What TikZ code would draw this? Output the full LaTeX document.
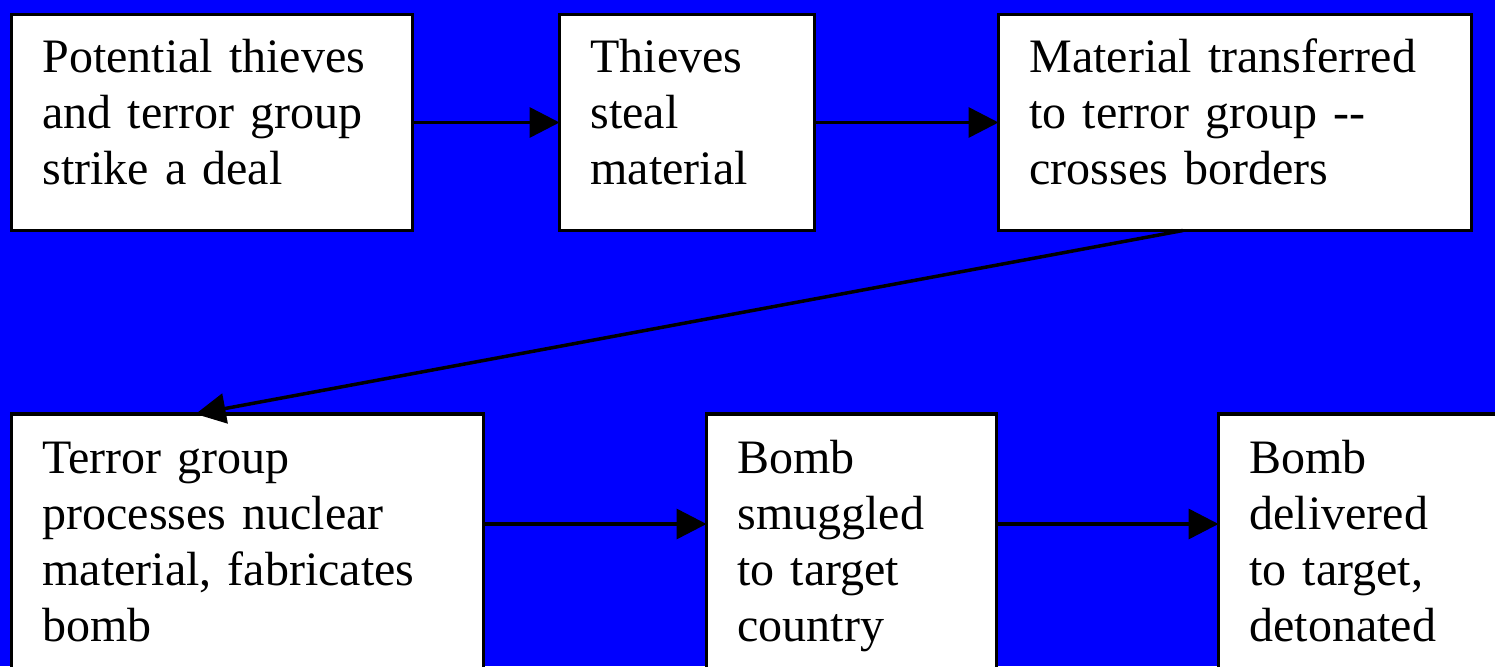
\documentclass[tikz,border=0pt]{standalone}
\usepackage{fontspec}
\setmainfont{Liberation Serif}
\usetikzlibrary{arrows.meta,calc,positioning}
\definecolor{slideblue}{RGB}{0,0,255}

\begin{document}
\begin{tikzpicture}[x=1pt,y=-1pt,
  stagebox/.style={draw=black,fill=white,line width=3.5pt,anchor=north west,
    inner xsep=31pt,inner ysep=0pt,outer sep=0pt,align=left,
    font=\fontsize{48}{56}\selectfont},
  toprow/.style={text height=58pt,text depth=158pt},
  lowrow/.style={text height=59pt,text depth=221pt},
  flow/.style={-{Triangle[length=30pt,width=30pt]},line width=3.5pt}]
\useasboundingbox (0,0) rectangle (1495,666);
\fill[slideblue] (0,0) rectangle (1495,666);
\clip (0,0) rectangle (1495,666);

% top row
\node[stagebox,toprow,text width=339pt] (deal) at (11.5,14.5)
  {Potential thieves\\and terror group\\strike a deal};
\node[stagebox,toprow,text width=193pt] (steal) at (559.5,14.5)
  {Thieves\\steal\\material};
\node[stagebox,toprow,text width=411pt] (transfer) at (998.5,14.5)
  {Material transferred\\to terror group -{}-\\crosses borders};

% bottom row
\node[stagebox,lowrow,text width=410pt] (fabricate) at (11.5,414)
  {Terror group\\processes nuclear\\material, fabricates\\bomb};
\node[stagebox,lowrow,text width=228pt] (smuggle) at (706.5,414)
  {Bomb\\smuggled\\to target\\country};
\node[stagebox,lowrow,text width=240pt] (detonate) at (1218.5,414)
  {Bomb\\delivered\\to target,\\detonated};

\coordinate (lowline) at (0,524);

\draw[flow] (deal) -- (steal);
\draw[flow] (steal) -- (transfer);
\draw[flow] ($(transfer.south west)!0.39!(transfer.south east)$)
  -- ($(fabricate.north west)!0.39!(fabricate.north east)$);
\draw[flow] (fabricate.east |- lowline) -- (smuggle.west |- lowline);
\draw[flow] (smuggle.east |- lowline) -- (detonate.west |- lowline);
\end{tikzpicture}
\end{document}
